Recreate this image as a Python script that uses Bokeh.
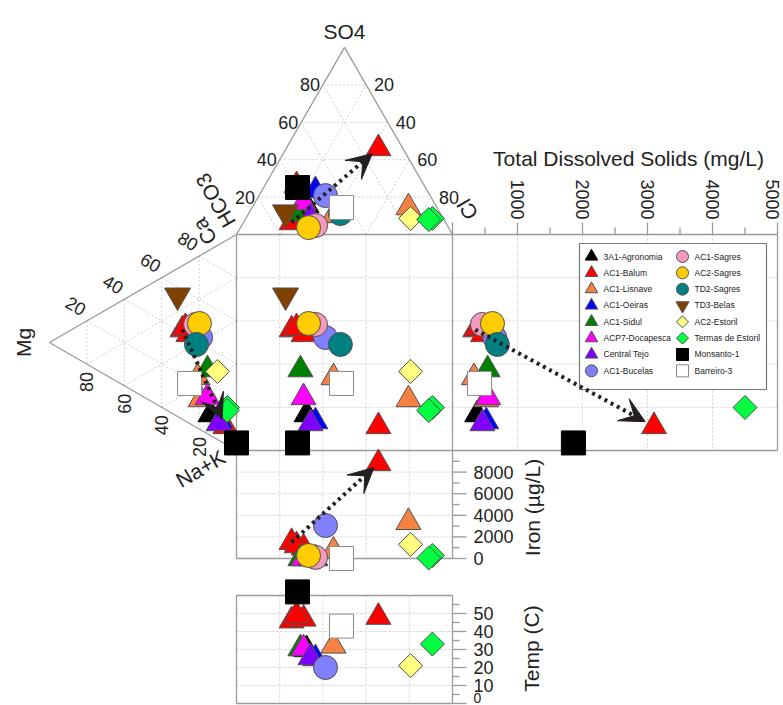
import numpy as np
from bokeh.plotting import figure
from bokeh.models import Range1d, Arrow, VeeHead
from bokeh.core.properties import value
from bokeh.embed import file_html
from bokeh.resources import INLINE

# ---------------- data ----------------
sites = ["3A1-Agronomia", "AC1-Balum", "AC1-Lisnave", "AC1-Oeiras", "AC1-Sidul",
         "ACP7-Docapesca", "Central Tejo", "AC1-Bucelas", "AC1-Sagres", "AC2-Sagres",
         "TD2-Sagres", "TD3-Belas", "AC2-Estoril", "Termas de Estoril", "Monsanto-1", "Barreiro-3"]
site_colors = ["#000000", "#FF0000", "#F58142", "#0000FF", "#008000",
               "#FF00FF", "#7F00FF", "#8080FF", "#F49AC1", "#FFCC00",
               "#008080", "#804000", "#FFFF80", "#00FF40", "#000000", "#FFFFFF"]
site_markers = ["triangle", "triangle", "triangle", "triangle", "triangle",
                "triangle", "triangle", "circle", "circle", "circle",
                "circle", "inverted_triangle", "diamond", "diamond", "square", "square"]

# one entry per sample (index into sites)
sample_site = [0, 1, 1, 1, 1, 2, 2, 3, 4, 5, 6, 7, 8, 9, 10, 11, 12, 13, 13, 14, 15]
so4 = [15.5, 6.4, 15.5, 26.2, 46.0, 10.2, 14.4, 23.5, 11.2, 17.1, 9.1, 20.8, 4.8, 3.7, 11.2, 11.8, 8.6, 8.6, 8.0, 25.1, 14.4]
cl = [24.7, 22.3, 23.3, 14.7, 42.7, 39.8, 72.4, 24.8, 24.0, 22.5, 29.7, 30.8, 34.2, 31.5, 42.5, 16.8, 76.3, 86.4, 85.0, 15.7, 41.4]
mg = [13.9, 28.9, 25.7, 27.3, 5.9, 20.8, 19.2, 8.6, 15.5, 15.5, 9.6, 19.2, 21.9, 19.8, 21.4, 31.5, 10.2, 4.8, 5.0, 0.0, 25.1]
nak = [76.4, 29.6, 33.4, 29.4, 85.9, 55.8, 66.8, 82.3, 54.8, 67.7, 82.7, 38.1, 30.7, 31.3, 40.2, 12.5, 58.3, 77.7, 79.0, 96.5, 56.4]
tds = [380, 350, 470, 400, 3100, 330, 520, 520, 540, 550, 460, 650, 460, 615, 690, np.nan, np.nan, 4500, np.nan, 1860, 415]
iron = [50, 1500, 1000, 1200, 8800, 700, 3350, 0, 0, 0, 0, 3050, 100, 280, np.nan, np.nan, 1300, 280, 50, np.nan, 0]
temp = [30, 46, 47, 49, 48, 32, np.nan, 25, 30.5, 30.5, 25.5, 20, np.nan, np.nan, np.nan, np.nan, 21, 33, np.nan, 62, 43]

# change shown by arrows (AC1-Balum): from sample 1 to sample 4
arrow_from, arrow_to = 1, 4

pct_ticks = [20, 40, 60, 80]
tds_major = [0, 1000, 2000, 3000, 4000, 5000]
tds_minor = [500, 1500, 2500, 3500, 4500]
iron_major = [0, 2000, 4000, 6000, 8000]
iron_minor = [1000, 3000, 5000, 7000, 9000]
temp_major = [0, 10, 20, 30, 40, 50]
temp_minor = [5, 15, 25, 35, 45, 55]

# ---------------- layout (page pixels) ----------------
W, H = 783, 705
SQ_L, SQ_T, SQ = 236.0, 234.0, 216.0
TH = SQ * np.sqrt(3) / 2
TDS_R = 777.0
TDS_MAX = 5000.0
IRON_T, IRON_B, IRON_MAX = 450.0, 558.0, 10000.0
TEMP_T, TEMP_B, TEMP_MAX = 595.0, 703.0, 60.0
FONT = value("Liberation Sans")
TXT = "#222222"
FRAME = "#9A9A9A"
GRID = "#CFCFCF"

so4a, cla, mga, naka = map(lambda a: np.array(a, dtype=float), (so4, cl, mg, nak))
tdsa, irona, tempa = (np.array(a, dtype=float) for a in (tds, iron, temp))


def top_xy(s, c):
    s = np.asarray(s, float); c = np.asarray(c, float)
    return SQ_L + SQ * (c + s / 2) / 100, SQ_T - TH * s / 100


def left_xy(m, n):
    m = np.asarray(m, float); n = np.asarray(n, float)
    return SQ_L - TH * m / 100, SQ_T + SQ * (n + m / 2) / 100


def tds_x(v):
    return SQ_L + SQ + (TDS_R - SQ_L - SQ) * np.asarray(v, float) / TDS_MAX


def iron_y(v):
    return IRON_B - (IRON_B - IRON_T) * np.asarray(v, float) / IRON_MAX


def temp_y(v):
    return TEMP_B - (TEMP_B - TEMP_T) * np.asarray(v, float) / TEMP_MAX


p = figure(width=W, height=H, x_range=Range1d(0, W), y_range=Range1d(H, 0),
           output_backend="svg", toolbar_location=None, min_border=0,
           x_axis_type=None, y_axis_type=None)
p.outline_line_color = None
p.background_fill_color = "white"
p.border_fill_color = "white"


def segs(lines, color, width=1.0, dash="solid"):
    xs = [[a[0], b[0]] for a, b in lines]
    ys = [[a[1], b[1]] for a, b in lines]
    p.multi_line(xs, ys, line_color=color, line_width=width, line_dash=dash)


def txt(x, y, t, size="18px", angle=0.0, align="center", baseline="middle"):
    p.text(x=list(np.atleast_1d(x)), y=list(np.atleast_1d(y)), text=list(np.atleast_1d(t)),
           angle=angle, text_font=FONT, text_font_size=size, text_color=TXT,
           text_align=align, text_baseline=baseline)


# ---------------- grids ----------------
g = []
for v in pct_ticks:
    # top triangle
    a = top_xy(v, 0); b = top_xy(v, 100 - v); g.append((a, b))
    a = top_xy(0, v); b = top_xy(100 - v, v); g.append((a, b))
    a = top_xy(0, 100 - v); b = top_xy(100 - v, 0); g.append((a, b))
    # left triangle
    a = left_xy(v, 0); b = left_xy(v, 100 - v); g.append((a, b))
    a = left_xy(0, v); b = left_xy(100 - v, v); g.append((a, b))
    a = left_xy(100 - v, 0); b = left_xy(0, 100 - v); g.append((a, b))
    # square + lower panels (vertical) and square + tds (horizontal)
    x = SQ_L + SQ * v / 100
    y = SQ_T + SQ * v / 100
    g.append(((x, SQ_T), (x, SQ_T + SQ)))
    g.append(((x, IRON_T), (x, IRON_B)))
    g.append(((x, TEMP_T), (x, TEMP_B)))
    g.append(((SQ_L, y), (TDS_R, y)))
for v in tds_major[1:-1]:
    g.append(((tds_x(v), SQ_T), (tds_x(v), SQ_T + SQ)))
for v in iron_major[1:]:
    g.append(((SQ_L, iron_y(v)), (SQ_L + SQ, iron_y(v))))
for v in temp_major[1:]:
    g.append(((SQ_L, temp_y(v)), (SQ_L + SQ, temp_y(v))))
segs(g, GRID, 1.0, "2 2")

# ---------------- frames ----------------
apex_top = top_xy(100, 0)
apex_left = left_xy(100, 0)
fr = [((SQ_L, SQ_T), apex_top), (apex_top, (SQ_L + SQ, SQ_T)),
      ((SQ_L, SQ_T), apex_left), (apex_left, (SQ_L, SQ_T + SQ)),
      ((SQ_L, SQ_T), (TDS_R, SQ_T)), ((SQ_L, SQ_T + SQ), (TDS_R, SQ_T + SQ)),
      ((SQ_L, SQ_T), (SQ_L, IRON_B)), ((SQ_L + SQ, SQ_T), (SQ_L + SQ, IRON_B)),
      ((TDS_R, SQ_T), (TDS_R, SQ_T + SQ)), ((SQ_L, IRON_B), (SQ_L + SQ, IRON_B)),
      ((SQ_L, TEMP_T), (SQ_L + SQ, TEMP_T)), ((SQ_L, TEMP_B), (SQ_L + SQ, TEMP_B)),
      ((SQ_L, TEMP_T), (SQ_L, TEMP_B)), ((SQ_L + SQ, TEMP_T), (SQ_L + SQ, TEMP_B))]
# ticks
for v in tds_major:
    fr.append(((tds_x(v), SQ_T), (tds_x(v), SQ_T - 12)))
for v in tds_minor:
    fr.append(((tds_x(v), SQ_T), (tds_x(v), SQ_T - 7)))
XR = SQ_L + SQ
for v in iron_major:
    fr.append(((XR, iron_y(v)), (XR + 14, iron_y(v))))
for v in iron_minor:
    fr.append(((XR, iron_y(v)), (XR + 7, iron_y(v))))
for v in temp_major:
    fr.append(((XR, temp_y(v)), (XR + 14, temp_y(v))))
for v in temp_minor:
    fr.append(((XR, temp_y(v)), (XR + 7, temp_y(v))))
segs(fr, FRAME, 1.3)

# ---------------- tick labels ----------------
for v in pct_ticks:
    x, y = top_xy(v, 0)
    txt(x - 3, y, str(v), "18px", 0, "right")
    x, y = top_xy(100 - v, v)
    txt(x + 8, y, str(v), "18px", 0, "left")
    x, y = left_xy(100 - v, 0)
    txt(x - 11, y - 15, str(v), "18px", -np.pi / 6, "center")
    x, y = left_xy(v, 100 - v)
    txt(x, y + 8, str(v), "18px", np.pi / 2, "right")
for v in tds_major[1:]:
    txt(min(float(tds_x(v)), W - 11.0), SQ_T - 15, str(v), "18px", -np.pi / 2, "right")
for v in iron_major:
    txt(XR + 21, iron_y(v), str(v), "18px", 0, "left")
for v in temp_major:
    ty0 = float(temp_y(v))
    if ty0 > H - 12:
        # label at the very bottom edge: keep it inside the page
        txt(XR + 21, H - 8.0, str(v), "14px", 0, "left")
    else:
        txt(XR + 21, ty0, str(v), "18px", 0, "left")

# ---------------- axis titles ----------------
txt(344, 31, "SO4", "21px")
txt(215, 200, "HCO3", "21px", 2 * np.pi / 3)
txt(467, 209, "Cl", "21px", 2 * np.pi / 3)
txt(23, 342, "Mg", "21px", np.pi / 2)
txt(204, 231, "Ca", "21px", 2 * np.pi / 3)
txt(200, 468, "Na+K", "21px", np.pi / 6)
txt(628, 158, "Total Dissolved Solids (mg/L)", "21px")
txt(532, 507, "Iron (\u00b5g/L)", "21px", np.pi / 2)
txt(531, 648, "Temp (C)", "21px", np.pi / 2)


# ---------------- points ----------------
def draw(xs, ys, k, scale=1.0):
    m = site_markers[k]
    col = site_colors[k]
    lc = "#000000" if col == "#000000" else ("#8A8A8A" if col == "#FFFFFF" else "#505050")
    kw = dict(fill_color=col, line_color=lc, line_width=1)
    if m == "diamond":
        p.scatter(xs, ys, marker="square", angle=np.pi / 4, size=17 * scale, **kw)
    elif m == "triangle":
        p.scatter(xs, ys, marker="triangle", size=25 * scale, **kw)
    elif m == "inverted_triangle":
        p.scatter(xs, ys, marker="inverted_triangle", size=26 * scale, **kw)
    elif m == "circle":
        p.scatter(xs, ys, marker="circle", size=24 * scale, **kw)
    else:
        p.scatter(xs, ys, marker="square", size=24 * scale, **kw)


site_arr = np.array(sample_site)
tx, ty = top_xy(so4a, cla)
lx, ly = left_xy(mga, naka)
for k in range(len(sites)):
    sel = site_arr == k
    draw(list(tx[sel]), list(ty[sel]), k)
    draw(list(lx[sel]), list(ly[sel]), k)
    draw(list(tx[sel]), list(ly[sel]), k)
    ok = np.isfinite(tdsa) & sel
    draw(list(tds_x(tdsa[ok])), list(ly[ok]), k)
    ok = np.isfinite(irona) & sel
    draw(list(tx[ok]), list(iron_y(irona[ok])), k)
    ok = np.isfinite(tempa) & sel
    draw(list(tx[ok]), list(temp_y(tempa[ok])), k)


# ---------------- arrows ----------------
def arrow(x0, y0, x1, y1, cut=8.0):
    L = np.hypot(x1 - x0, y1 - y0)
    xe, ye = x1 - (x1 - x0) * cut / L, y1 - (y1 - y0) * cut / L
    p.add_layout(Arrow(end=VeeHead(size=25, fill_color="#231F20", line_color="#231F20"),
                       x_start=float(x0), y_start=float(y0), x_end=float(xe), y_end=float(ye),
                       line_color="#231F20", line_width=4, line_dash="3 4"))


a, b = arrow_from, arrow_to
arrow(tx[a], ty[a], tx[b], ty[b])
arrow(lx[a], ly[a], lx[b], ly[b])
arrow(tds_x(tdsa[a]), ly[a], tds_x(tdsa[b]), ly[b], 10)
arrow(tx[a], iron_y(irona[a]), tx[b], iron_y(irona[b]), 6)

# ---------------- legend ----------------
LG_L, LG_R, LG_T, LG_B = 579, 766, 243, 389
p.quad(left=[LG_L], right=[LG_R], top=[LG_T], bottom=[LG_B], fill_color="white",
       line_color="#777777", line_width=1.2)
row0, dy = 256.0, 16.33
for k, name in enumerate(sites):
    col, row = divmod(k, 8)
    mx = 591 if col == 0 else 682
    y = row0 + row * dy
    draw([mx], [y], k, 0.5)
    p.text(x=[mx + 12], y=[y], text=[name], text_font=FONT, text_font_size="8.5px",
           text_color=TXT, text_align="left", text_baseline="middle")

open("out.html", "w").write(file_html(p, INLINE))
